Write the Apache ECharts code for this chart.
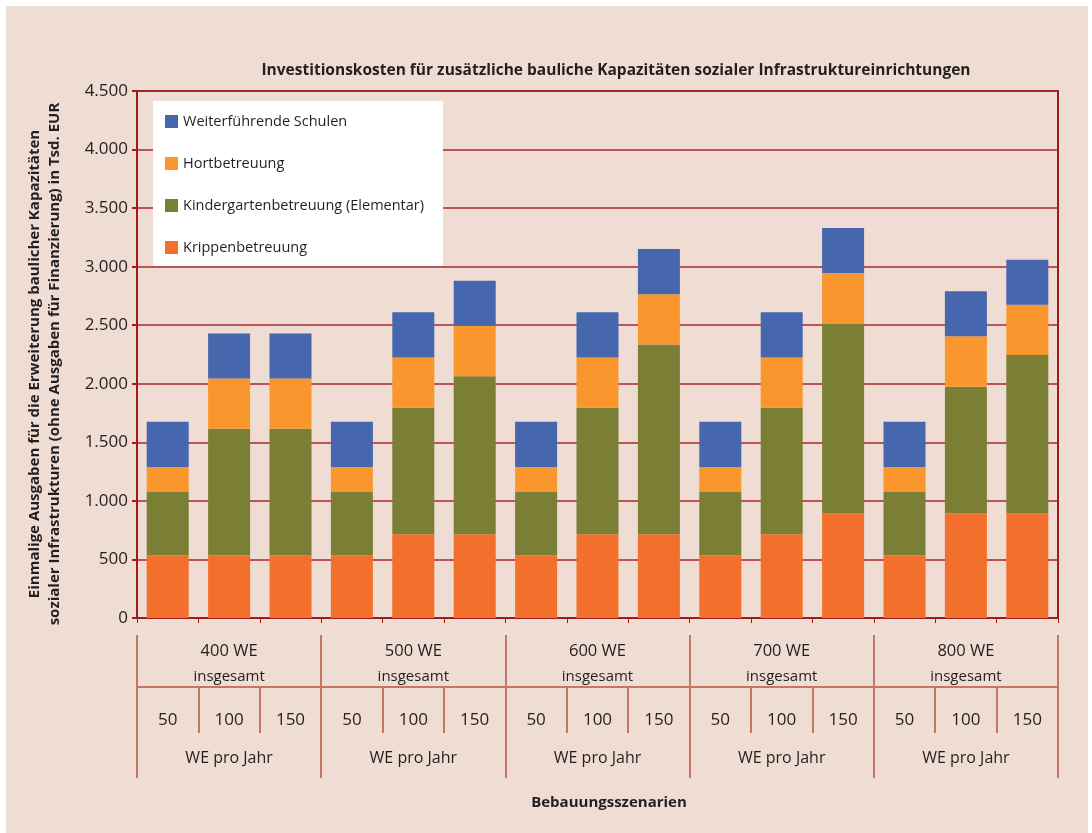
<!DOCTYPE html>
<html>
<head>
<meta charset="utf-8">
<script src="https://cdn.jsdelivr.net/npm/echarts@6/dist/echarts.min.js"></script>
<style>
  html, body { margin: 0; padding: 0; background: #ffffff; }
  #chart { position: absolute; left: 6px; top: 6px; width: 1082px; height: 827px; background: #efdcd2; }
</style>
</head>
<body>
<div id="chart"></div>
<script>
// Bebauungsszenarien: 5 Gruppen x 3 Raten
const groups = ["400 WE", "500 WE", "600 WE", "700 WE", "800 WE"];
const rates = ["50", "100", "150"];
const categories = [
  "50", "100", "150", "50", "100", "150", "50", "100", "150",
  "50", "100", "150", "50", "100", "150"
];
const yTicks = [0, 500, 1000, 1500, 2000, 2500, 3000, 3500, 4000, 4500];

// Werte in Tsd. EUR (Segmenthöhen, gestapelt)
const krippe = [535, 535, 535, 535, 715, 715, 535, 715, 715, 535, 715, 895, 535, 895, 895];
const kita = [540, 1080, 1080, 540, 1080, 1350, 540, 1080, 1620, 540, 1080, 1620, 540, 1080, 1350];
const hort = [215, 430, 430, 215, 430, 430, 215, 430, 430, 215, 430, 430, 215, 430, 430];
const schulen = [385, 385, 385, 385, 385, 385, 385, 385, 385, 385, 385, 385, 385, 385, 385];

const FONT = "'Open Sans', Lato, sans-serif";
const TEXT = "#231f20";
const RED = "#9e1b1e";
const GRIDLINE = "#a8292c";
const TABLE = "#c47764";

const fmt = (v) => String(v).replace(/\B(?=(\d{3})+(?!\d))/g, ".");

const chart = echarts.init(document.getElementById("chart"), null, { renderer: "canvas" });

const option = {
  backgroundColor: "#efdcd2",
  animation: false,
  textStyle: { fontFamily: FONT, color: TEXT },
  title: [
    {
      text: "Investitionskosten für zusätzliche bauliche Kapazitäten sozialer Infrastruktureinrichtungen",
      left: 605,
      top: 52,
      textAlign: "center",
      textStyle: { fontFamily: FONT, fontSize: 15.5, fontWeight: "bold", color: TEXT }
    },
    {
      text: "Bebauungsszenarien",
      left: 598,
      top: 784,
      textAlign: "center",
      textStyle: { fontFamily: FONT, fontSize: 15, fontWeight: "bold", color: TEXT }
    }
  ],
  graphic: [
    {
      type: "text",
      x: 39,
      y: 358,
      rotation: Math.PI / 2,
      style: {
        text: "Einmalige Ausgaben für die Erweiterung baulicher Kapazitäten\nsozialer Infrastrukturen (ohne Ausgaben für Finanzierung) in Tsd. EUR",
        font: "bold 15px " + FONT,
        fill: TEXT,
        align: "center",
        verticalAlign: "middle",
        lineHeight: 20
      }
    }
  ],
  legend: {
    orient: "vertical",
    left: 147,
    top: 95,
    backgroundColor: "#ffffff",
    padding: [13, 19, 11, 12],
    itemGap: 27,
    itemWidth: 13,
    itemHeight: 13,
    icon: "rect",
    textStyle: { fontFamily: FONT, fontSize: 14.5, color: TEXT },
    data: [
      "Weiterführende Schulen",
      "Hortbetreuung",
      "Kindergartenbetreuung (Elementar)",
      "Krippenbetreuung"
    ]
  },
  grid: {
    left: 131,
    right: 30,
    top: 85,
    bottom: 215,
    containLabel: false,
    show: true,
    borderColor: RED,
    borderWidth: 2,
    backgroundColor: "transparent"
  },
  xAxis: [
    {
      type: "category",
      data: categories,
      position: "bottom",
      axisLine: { lineStyle: { color: RED, width: 2 } },
      axisTick: { show: true, length: 5, lineStyle: { color: RED, width: 1 } },
      axisLabel: { show: false }
    },
    {
      type: "category",
      data: categories,
      position: "bottom",
      offset: 69,
      axisLine: { show: true, lineStyle: { color: TABLE, width: 2 } },
      axisTick: { show: true, length: 46, interval: 0, lineStyle: { color: TABLE, width: 2 } },
      axisLabel: { interval: 0, margin: 25, fontFamily: FONT, fontSize: 17, color: TEXT }
    },
    {
      type: "category",
      data: groups,
      position: "bottom",
      offset: 17,
      axisLine: { show: false },
      axisTick: { show: true, length: 143, interval: 0, lineStyle: { color: TABLE, width: 2 } },
      axisLabel: {
        interval: 0,
        margin: 4,
        formatter: (v) => "{a|" + v + "}\n{b|insgesamt}",
        rich: {
          a: { fontFamily: FONT, fontSize: 16.5, color: TEXT, lineHeight: 24 },
          b: { fontFamily: FONT, fontSize: 15, color: TEXT, lineHeight: 27 }
        }
      }
    },
    {
      type: "category",
      data: groups,
      position: "bottom",
      offset: 128,
      axisLine: { show: false },
      axisTick: { show: false },
      axisLabel: {
        interval: 0,
        margin: 4,
        formatter: () => "WE pro Jahr",
        fontFamily: FONT,
        fontSize: 16,
        color: TEXT
      }
    }
  ],
  yAxis: {
    type: "value",
    min: yTicks[0],
    max: yTicks[yTicks.length - 1],
    interval: 500,
    axisLine: { show: true, lineStyle: { color: RED, width: 2 } },
    axisTick: { show: true, length: 5, lineStyle: { color: RED, width: 2 } },
    axisLabel: { formatter: fmt, margin: 9, fontFamily: FONT, fontSize: 17, color: TEXT },
    splitLine: { show: true, lineStyle: { color: GRIDLINE, width: 1.5 } }
  },
  series: [
    { name: "Krippenbetreuung", type: "bar", stack: "s", barWidth: 42, data: krippe, itemStyle: { color: "#f2702c" } },
    { name: "Kindergartenbetreuung (Elementar)", type: "bar", stack: "s", barWidth: 42, data: kita, itemStyle: { color: "#7b7f35" } },
    { name: "Hortbetreuung", type: "bar", stack: "s", barWidth: 42, data: hort, itemStyle: { color: "#f9962d" } },
    { name: "Weiterführende Schulen", type: "bar", stack: "s", barWidth: 42, data: schulen, itemStyle: { color: "#4666ae" } }
  ]
};

chart.setOption(option);
</script>
</body>
</html>
